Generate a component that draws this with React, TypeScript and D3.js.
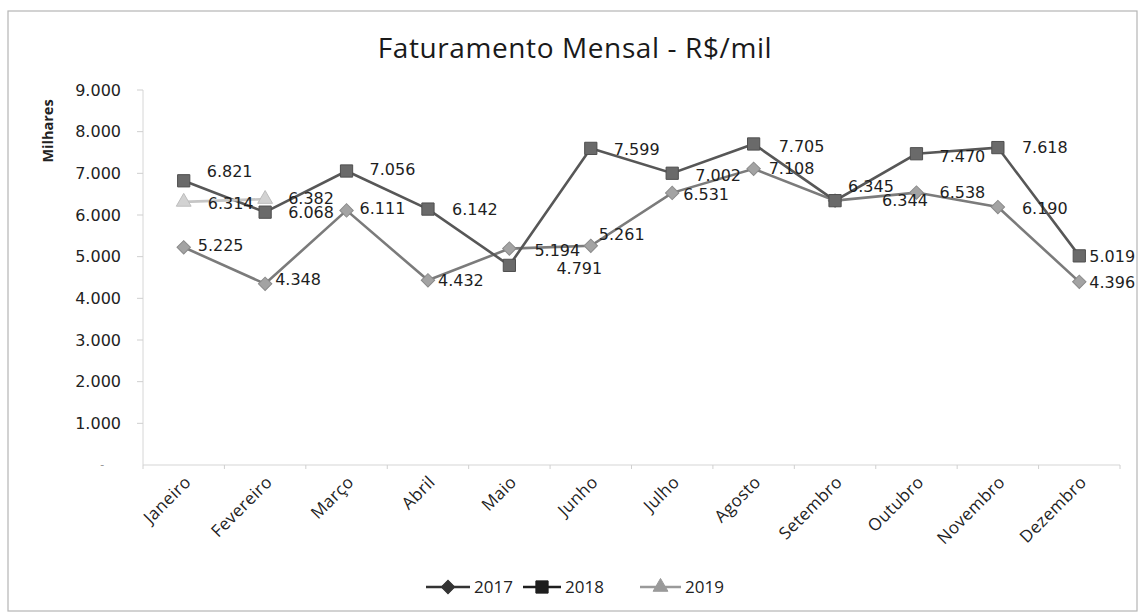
import React from 'react';
import * as d3 from 'd3';

const months = ['Janeiro', 'Fevereiro', 'Março', 'Abril', 'Maio', 'Junho', 'Julho', 'Agosto', 'Setembro', 'Outubro', 'Novembro', 'Dezembro'];
const values2017 = [5225, 4348, 6111, 4432, 5194, 5261, 6531, 7108, 6345, 6538, 6190, 4396];
const values2018 = [6821, 6068, 7056, 6142, 4791, 7599, 7002, 7705, 6344, 7470, 7618, 5019];
const values2019 = [6314, 6382];
const yTicks = [1000, 2000, 3000, 4000, 5000, 6000, 7000, 8000, 9000];
const seriesNames = ['2017', '2018', '2019'];
const titleText = 'Faturamento Mensal - R$/mil';
const yAxisTitle = 'Milhares';

// label placement (layout, px) mimicking the manually nudged Excel labels
const labelDx = [
  [14, 10, 13, 10, 25, 8, 11, 15, 13, 23, 24, 10],
  [23, 23, 23, 24, 47, 23, 23, 25, 47, 23, 24, 10],
  [24, 23],
];
const labelDy = [
  [-2, -5, -2, 0, 2, -12, 1, -1, -14, 0, 1, 0],
  [-10, 0, -2, 0, 3, 1, 2, 2, 0, 2, 0, 0],
  [1, -1],
];

const W = 1139;
const H = 613;
const FONT = "'Open Sans', 'DejaVu Sans', sans-serif";
const NUMFONT = "'DejaVu Sans', 'Open Sans', sans-serif";

const loc = d3.formatLocale({ decimal: ',', thousands: '.', grouping: [3], currency: ['R$', ''] });
const fmt = loc.format(',');

export default function App() {
  const x = d3.scaleBand<string>().domain(months).range([143, 1120]);
  const cx = (i: number) => (x(months[i]) as number) + x.bandwidth() / 2;
  const y = d3.scaleLinear().domain([0, 9000]).range([465, 90]);

  const series = [values2017, values2018, values2019];
  const lineColors = ['#7b7b7b', '#575757', '#c6c6c6'];
  const markerFill = ['#a3a3a3', '#6a6a6a', '#d2d2d2'];
  const markerStroke = ['#8a8a8a', '#4f4f4f', '#bdbdbd'];
  const legendColors = ['#333333', '#1e1e1e', '#9a9a9a'];

  const line = d3.line<number>().x((_, i) => cx(i)).y((d) => y(d));
  const diamond = d3.symbol(d3.symbolSquare, 90)();
  const square = d3.symbol(d3.symbolSquare, 150)();
  const triangle = d3.symbol(d3.symbolTriangle, 95)();

  const marker = (s: number, px: number, py: number, fill: string, stroke: string, key: string) => {
    if (s === 0) return <path key={key} d={diamond as string} transform={`translate(${px},${py}) rotate(45)`} fill={fill} stroke={stroke} strokeWidth={1} />;
    if (s === 1) return <path key={key} d={square as string} transform={`translate(${px},${py})`} fill={fill} stroke={stroke} strokeWidth={1} />;
    return <path key={key} d={triangle as string} transform={`translate(${px},${py})`} fill={fill} stroke={stroke} strokeWidth={1} />;
  };

  const legendItems = [
    { x0: 426, x1: 470, tx: 474 },
    { x0: 523, x1: 561, tx: 565 },
    { x0: 640, x1: 681, tx: 685 },
  ];
  const legendY = 587;

  return (
    <svg width={W} height={H} style={{ position: 'absolute', left: 0, top: 0, background: '#fff' }} fontFamily={FONT}>
      <rect x={8} y={11} width={1129} height={600} fill="#fff" stroke="#b5b5b5" strokeWidth={1.2} />
      <text x={575} y={58} textAnchor="middle" fontSize={28} letterSpacing={0.6} fill="#1a1a1a">{titleText}</text>

      {/* y axis */}
      <line x1={143} x2={143} y1={y(9000)} y2={y(0)} stroke="#d6d6d6" strokeWidth={1} />
      {yTicks.map((t) => (
        <g key={t}>
          <line x1={137} x2={143} y1={y(t)} y2={y(t)} stroke="#cfcfcf" />
          <text x={121} y={y(t)} dy="0.36em" textAnchor="end" fontFamily={NUMFONT} fontSize={16} fill="#222">{fmt(t)}</text>
        </g>
      ))}
      <text x={104} y={y(0)} dy="0.36em" textAnchor="end" fontSize={12} fill="#999">-</text>
      <text transform={`translate(53,131) rotate(-90)`} textAnchor="middle" fontSize={14.5} fontWeight="bold" fill="#222">{yAxisTitle}</text>

      {/* x axis */}
      <line x1={143} x2={1120} y1={y(0)} y2={y(0)} stroke="#d6d6d6" strokeWidth={1.2} />
      {months.map((m) => (
        <line key={'xt' + m} x1={x(m) as number} x2={x(m) as number} y1={y(0)} y2={y(0) + 4} stroke="#d0d0d0" />
      ))}
      <line x1={1120} x2={1120} y1={y(0)} y2={y(0) + 4} stroke="#d0d0d0" />
      {months.map((m, i) => (
        <text key={'xl' + m} transform={`translate(${cx(i) + 4},${y(0) + 14}) rotate(-45)`} textAnchor="end" dy="0.35em" fontSize={17} letterSpacing={0.4} fill="#222">{m}</text>
      ))}

      {/* series */}
      {series.map((vals, s) => (
        <g key={'s' + s}>
          <path d={line(vals) as string} fill="none" stroke={lineColors[s]} strokeWidth={2.6} />
          {vals.map((v, i) => marker(s, cx(i), y(v), markerFill[s], markerStroke[s], `m${s}-${i}`))}
        </g>
      ))}

      {/* data labels */}
      {series.map((vals, s) =>
        vals.map((v, i) => (
          <text key={`l${s}-${i}`} x={cx(i) + labelDx[s][i]} y={y(v) + labelDy[s][i]} dy="0.36em" fontFamily={NUMFONT} fontSize={16} fill="#1e1e1e">{fmt(v)}</text>
        ))
      )}

      {/* legend */}
      {seriesNames.map((n, s) => {
        const it = legendItems[s];
        const mx = (it.x0 + it.x1) / 2;
        return (
          <g key={'lg' + n}>
            <line x1={it.x0} x2={it.x1} y1={legendY} y2={legendY} stroke={legendColors[s]} strokeWidth={2.5} />
            {marker(s, mx, legendY, legendColors[s], legendColors[s], 'lm' + s)}
            <text x={it.tx} y={legendY} dy="0.36em" fontSize={17} fill="#222">{n}</text>
          </g>
        );
      })}
    </svg>
  );
}
